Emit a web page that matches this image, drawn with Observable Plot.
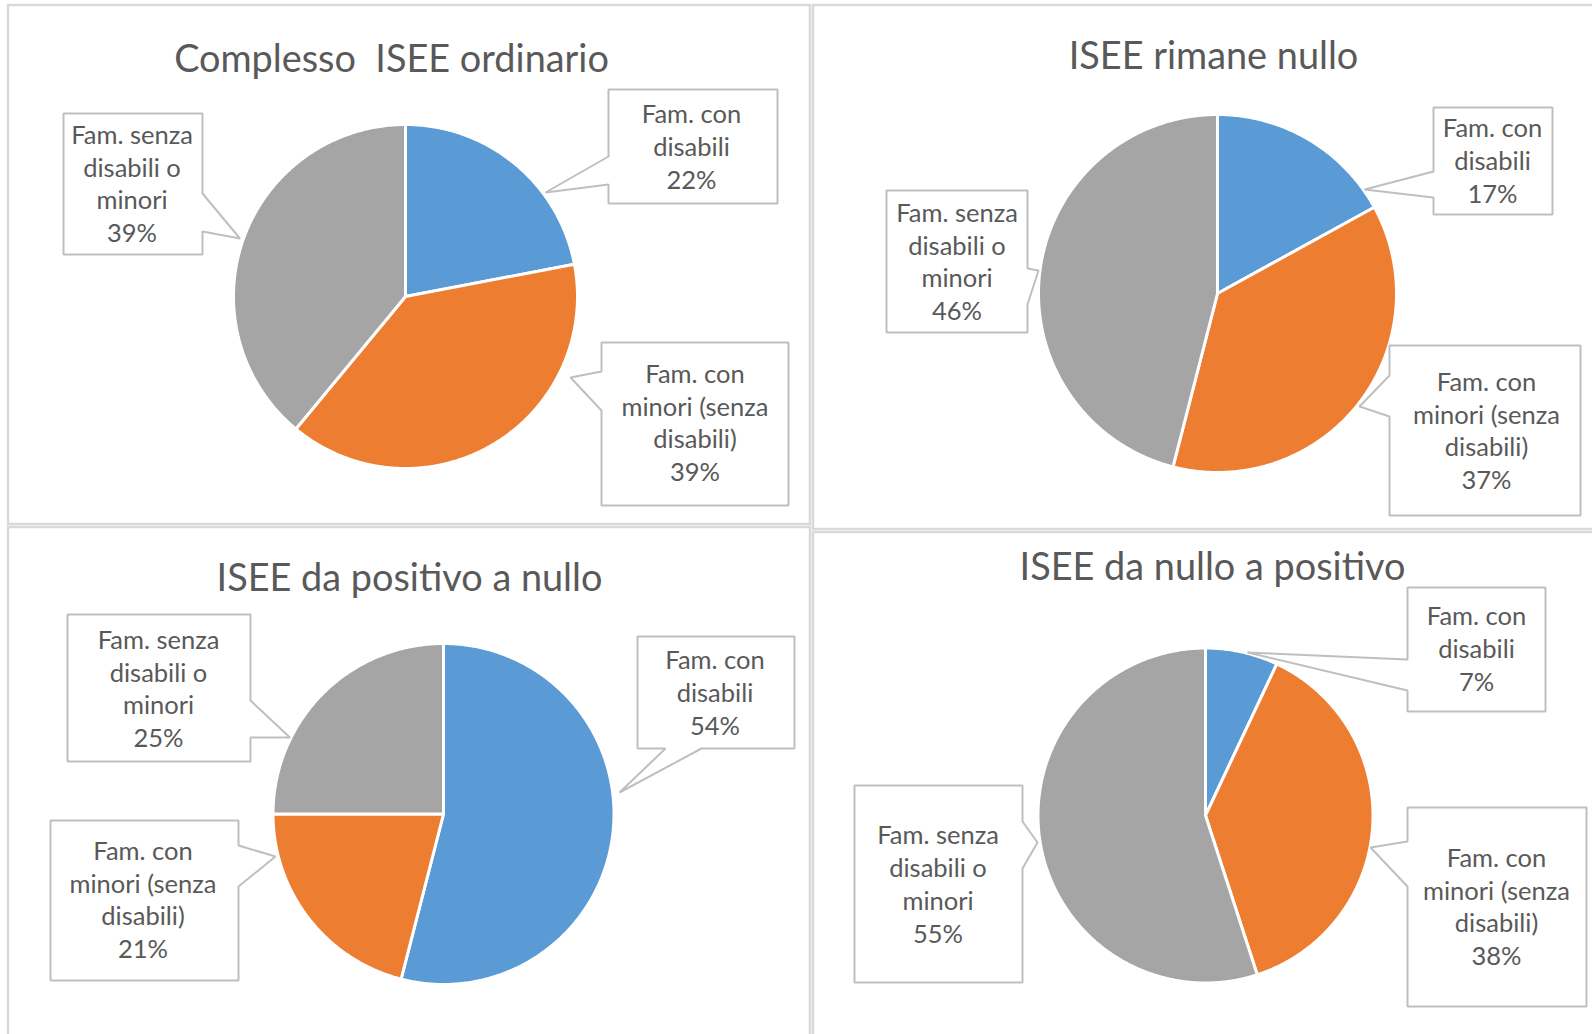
<!DOCTYPE html>
<html>
<head>
<meta charset="utf-8">
<script src="https://cdn.jsdelivr.net/npm/d3@7"></script>
<script src="https://cdn.jsdelivr.net/npm/@observablehq/plot@0.6"></script>
<style>
  html, body { margin: 0; padding: 0; background: #ffffff; overflow: hidden; }
  #chart svg { display: block; }
</style>
</head>
<body>
<div id="chart"></div>
<script>
// ---------------- DATA ----------------
const panelTitles = [
  "Complesso\u00A0 ISEE ordinario",
  "ISEE rimane nullo",
  "ISEE da positivo a nullo",
  "ISEE da nullo a positivo"
];
const categories = [
  "Fam. con disabili",
  "Fam. con minori (senza disabili)",
  "Fam. senza disabili o minori"
];
const categoryLabels = [
  "Fam. con\ndisabili",
  "Fam. con\nminori (senza\ndisabili)",
  "Fam. senza\ndisabili o\nminori"
];
const sharesComplesso      = [22, 39, 39];
const sharesRimaneNullo    = [17, 37, 46];
const sharesPositivoANullo = [54, 21, 25];
const sharesNulloAPositivo = [7, 38, 55];
const panelShares = [sharesComplesso, sharesRimaneNullo, sharesPositivoANullo, sharesNulloAPositivo];

// ---------------- STYLE ----------------
const sliceColors = ["#5B9BD5", "#ED7D31", "#A5A5A5"];
const textColor = "#595959";
const fontFamily = "Lato, 'Open Sans', sans-serif";

// ---------------- LAYOUT (pixels) ----------------
const W = 1592, H = 1034;
const layout = [
  { frame: [8, 5, 810, 524], title: [391, 59], pie: [405, 296, 172],
    callouts: [
      { box: [608, 89, 777, 203],  side: "left",  joints: [156, 184], tip: [545, 192], text: [691, 145] },
      { box: [601, 342, 788, 505], side: "left",  joints: [371, 410], tip: [570, 377], text: [694.5, 421] },
      { box: [63, 113, 202, 254],  side: "right", joints: [193, 231], tip: [239.5, 238], text: [131.5, 182] }
    ] },
  { frame: [813, 5, 1600, 529], title: [1213, 56], pie: [1217, 293, 179],
    callouts: [
      { box: [1433, 107, 1552, 214], side: "left",  joints: [171, 197], tip: [1364, 189], text: [1492, 159] },
      { box: [1389, 345, 1580, 515], side: "left",  joints: [375, 416], tip: [1359, 406], text: [1486, 429] },
      { box: [886, 190, 1027, 332],  side: "right", joints: [268, 304], tip: [1038, 270], text: [956.5, 260] }
    ] },
  { frame: [8, 527, 810, 1040], title: [409, 578], pie: [443, 813.5, 170.5],
    callouts: [
      { box: [637, 636, 794, 748],  side: "bottom", joints: [665, 701], tip: [619, 792], text: [714.5, 691] },
      { box: [50, 820, 238, 980],   side: "right",  joints: [845, 886], tip: [275, 856], text: [142.5, 898] },
      { box: [67, 614, 250, 761],   side: "right",  joints: [700, 737], tip: [289.5, 737], text: [158, 687] }
    ] },
  { frame: [813, 532, 1600, 1040], title: [1212, 567], pie: [1205, 815, 167.5],
    callouts: [
      { box: [1407, 587, 1545, 711],  side: "left",  joints: [659, 690], tip: [1247, 652], text: [1476, 647] },
      { box: [1407, 807, 1586, 1006], side: "left",  joints: [841, 886], tip: [1370, 847], text: [1496, 905] },
      { box: [854, 785, 1022, 982],   side: "right", joints: [821, 868], tip: [1037, 842], text: [937.5, 882.5] }
    ] }
];

// font sizing to match reference text widths
function fitSize(text, target, weight = 400) {
  const ctx = document.createElement("canvas").getContext("2d");
  ctx.font = `${weight} 100px ${fontFamily}`;
  return 100 * target / ctx.measureText(text).width;
}
const titleWeight = 400;
const titleSize = fitSize("ISEE da positivo a nullo", 386, titleWeight);
const labelSize = fitSize("minori (senza", 147);
const lineHeightPx = 32.7;

// ---------------- GEOMETRY FROM DATA ----------------
const pie = d3.pie().sort(null).value(d => d);
const slicePoints = [];
panelShares.forEach((shares, p) => {
  const [cx, cy, r] = layout[p].pie;
  pie(shares).forEach((a, i) => {
    const key = `p${p}-s${i}`;
    slicePoints.push({ key, category: categories[i], x: cx, y: cy });
    const n = Math.max(2, Math.ceil((a.endAngle - a.startAngle) / 0.01));
    for (let k = 0; k <= n; k++) {
      const t = a.startAngle + (a.endAngle - a.startAngle) * k / n;
      slicePoints.push({ key, category: categories[i], x: cx + r * Math.sin(t), y: cy - r * Math.cos(t) });
    }
  });
});

const calloutPoints = [];
const labelRows = [];
layout.forEach((panel, p) => {
  panel.callouts.forEach((c, i) => {
    const [x1, y1, x2, y2] = c.box, [j1, j2] = c.joints, [tx, ty] = c.tip;
    let pts;
    if (c.side === "left") pts = [[x1, y1], [x2, y1], [x2, y2], [x1, y2], [x1, j2], [tx, ty], [x1, j1]];
    else if (c.side === "right") pts = [[x1, y1], [x2, y1], [x2, j1], [tx, ty], [x2, j2], [x2, y2], [x1, y2]];
    else pts = [[x1, y1], [x2, y1], [x2, y2], [j2, y2], [tx, ty], [j1, y2], [x1, y2]];
    pts.forEach(([x, y]) => calloutPoints.push({ key: `c${p}-${i}`, x, y }));
    labelRows.push({ x: c.text[0], y: c.text[1], text: `${categoryLabels[i]}\n${panelShares[p][i]}%` });
  });
});

const frames = layout.map(d => ({ x1: d.frame[0], y1: d.frame[1], x2: d.frame[2], y2: d.frame[3] }));
const titleRows = layout.map((d, p) => ({ x: d.title[0], y: d.title[1], text: panelTitles[p] }));

// ---------------- PLOT ----------------
const chart = Plot.plot({
  width: W,
  height: H,
  margin: 0,
  style: { background: "#ffffff", fontFamily },
  x: { domain: [0, W], range: [0, W], axis: null },
  y: { domain: [0, H], range: [0, H], axis: null },
  color: { domain: categories, range: sliceColors },
  marks: [
    Plot.rect(frames, { x1: "x1", y1: "y1", x2: "x2", y2: "y2", fill: "none", stroke: "#d9d9d9", strokeWidth: 2.5 }),
    Plot.line(slicePoints, { x: "x", y: "y", z: "key", fill: "category", stroke: "#ffffff", strokeWidth: 3, strokeLinejoin: "round", curve: "linear-closed" }),
    Plot.line(calloutPoints, { x: "x", y: "y", z: "key", fill: "#ffffff", stroke: "#bfbfbf", strokeWidth: 2, strokeLinejoin: "miter", curve: "linear-closed" }),
    Plot.text(labelRows, { x: "x", y: "y", text: "text", fill: textColor, fontSize: labelSize, lineHeight: lineHeightPx / labelSize, fontFamily, textAnchor: "middle" }),
    Plot.text(titleRows, { x: "x", y: "y", text: "text", fill: textColor, fontSize: titleSize, fontWeight: titleWeight, fontFamily, textAnchor: "middle" })
  ]
});
document.getElementById("chart").appendChild(chart);
</script>
</body>
</html>
